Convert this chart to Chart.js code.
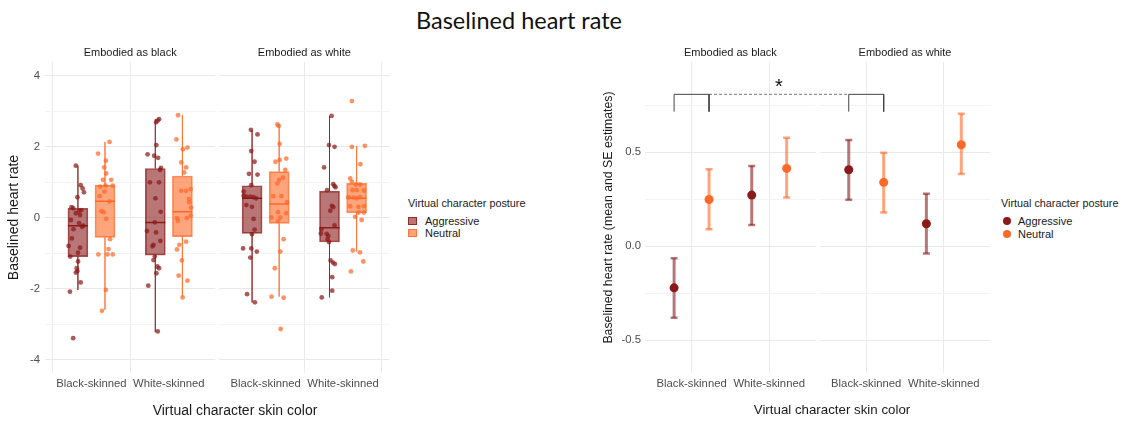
<!DOCTYPE html>
<html>
<head>
<meta charset="utf-8">
<script src="https://cdn.jsdelivr.net/npm/chart.js@4.4.1/dist/chart.umd.min.js"></script>
<style>
  body { margin: 0; background: #fff; font-family: "Liberation Sans", Arial, sans-serif; }
  #wrap { position: relative; width: 1126px; height: 425px; overflow: hidden; }
  .abs { position: absolute; white-space: nowrap; }
  #title { left: 0; width: 1038px; top: 7px; line-height: 26px; text-align: center;
           font-family: Lato, "Open Sans", sans-serif; font-size: 23.5px; color: #111; }
  .xtitle { line-height: 16px; text-align: center; color: #1a1a1a; width: 200px; }
  .lgTitle { font-size: 10.8px; line-height: 14px; color: #1a1a1a; }
  .lgItem { font-size: 11px; line-height: 12px; color: #1a1a1a; }
  .boxKey { width: 7px; height: 6px; border: 1px solid; }
  .dotKey { width: 8px; height: 8px; border-radius: 50%; }
</style>
</head>
<body>
<div id="wrap">
  <div id="title" class="abs">Baselined heart rate</div>

  <div class="abs" style="left:3px;top:0;width:398px;height:425px"><canvas id="boxChart"></canvas></div>
  <div class="abs" style="left:597px;top:0;width:400px;height:425px"><canvas id="meanChart"></canvas></div>

  <div class="abs xtitle" style="left:135px;top:402px;font-size:14px">Virtual character skin color</div>
  <div class="abs xtitle" style="left:732px;top:402px;font-size:13.3px">Virtual character skin color</div>

  <div class="abs lgTitle" style="left:408px;top:196px">Virtual character posture</div>
  <div class="abs boxKey" id="kA" style="left:408px;top:217px"></div>
  <div class="abs lgItem" style="left:425px;top:215px">Aggressive</div>
  <div class="abs boxKey" id="kN" style="left:408px;top:229px"></div>
  <div class="abs lgItem" style="left:425px;top:227px">Neutral</div>

  <div class="abs lgTitle" style="left:1001px;top:196px">Virtual character posture</div>
  <div class="abs dotKey" id="dA" style="left:1003px;top:217px"></div>
  <div class="abs lgItem" style="left:1018px;top:215px">Aggressive</div>
  <div class="abs dotKey" id="dN" style="left:1003px;top:230px"></div>
  <div class="abs lgItem" style="left:1018px;top:228px">Neutral</div>
</div>

<script>
// categories and facets
const categories = ['Black-skinned', 'White-skinned', 'Black-skinned', 'White-skinned'];
const facets = ['Embodied as black', 'Embodied as white'];
const postures = ['Aggressive', 'Neutral'];

// left panel: boxplot stats per category (aggressive / neutral)
const aggMin = [-2.03, -3.22, -2.38, -2.24];
const aggQ1  = [-1.09, -1.05, -0.435, -0.68];
const aggMed = [-0.22, -0.13, 0.55, -0.28];
const aggQ3  = [0.27, 1.39, 0.905, 0.755];
const aggMax = [1.47, 2.78, 2.47, 2.87];
const neuMin = [-2.59, -2.22, -2.22, -0.95];
const neuQ1  = [-0.55, -0.53, -0.155, 0.145];
const neuMed = [0.47, 0.17, 0.39, 0.55];
const neuQ3  = [0.92, 1.18, 1.30, 0.97];
const neuMax = [2.14, 2.89, 2.63, 2.02];

// left panel: individual observations (values) and their jitter offsets
const aggY = [
  [1.47, 0.92, 0.83, 0.72, 0.58, 0.30, 0.27, 0.20, 0.22, 0.13, 0.08, -0.06, -0.15, -0.22, -0.25, -0.32, -0.58, -0.79, -0.84, -0.98, -1.09, -1.23, -1.42, -1.50, -1.54, -1.82, -2.08, -3.39],
  [2.78, 2.74, 2.69, 2.05, 1.79, 1.75, 1.69, 1.41, 1.35, 1.00, 1.00, 0.55, 0.17, -0.13, -0.37, -0.41, -0.65, -0.76, -0.80, -1.09, -1.19, -1.37, -1.42, -1.56, -1.91, -3.20],
  [2.48, 2.35, 1.88, 1.58, 1.24, 1.22, 0.92, 0.74, 0.62, 0.60, 0.60, 0.58, 0.55, 0.36, 0.31, -0.03, -0.33, -0.46, -0.86, -0.86, -0.95, -1.12, -2.15, -2.38],
  [2.87, 2.05, 2.00, 1.42, 0.95, 0.90, 0.86, 0.78, 0.34, 0.30, 0.20, -0.21, -0.32, -0.44, -0.45, -0.51, -0.60, -0.68, -1.20, -1.26, -1.30, -1.67, -2.05, -2.24]
];
const aggJit = [
  [-0.202, -0.139, -0.114, -0.097, -0.181, -0.257, -0.236, -0.160, -0.130, -0.202, -0.147, -0.265, -0.160, -0.105, -0.122, -0.232, -0.253, -0.295, -0.147, -0.173, -0.274, -0.173, -0.190, -0.181, -0.202, -0.139, -0.278, -0.236],
  [-0.127, -0.144, -0.165, -0.161, -0.275, -0.190, -0.139, -0.102, -0.114, -0.245, -0.127, -0.173, -0.106, -0.182, -0.283, -0.165, -0.110, -0.199, -0.211, -0.182, -0.199, -0.148, -0.127, -0.161, -0.266, -0.144],
  [-0.190, -0.105, -0.186, -0.143, -0.215, -0.105, -0.186, -0.283, -0.283, -0.249, -0.198, -0.156, -0.122, -0.249, -0.177, -0.156, -0.143, -0.177, -0.291, -0.186, -0.114, -0.198, -0.240, -0.139],
  [-0.148, -0.182, -0.110, -0.245, -0.127, -0.110, -0.097, -0.207, -0.144, -0.127, -0.165, -0.110, -0.279, -0.287, -0.211, -0.190, -0.200, -0.182, -0.161, -0.131, -0.106, -0.140, -0.140, -0.275]
];
const neuY = [
  [2.14, 1.81, 1.61, 1.42, 1.25, 1.07, 1.07, 0.88, 0.91, 0.91, 0.74, 0.61, 0.46, 0.19, 0.16, -0.03, -0.60, -0.88, -1.03, -1.03, -1.03, -2.03, -2.62],
  [2.89, 2.21, 1.98, 1.93, 1.56, 1.42, 1.28, 0.81, 0.76, 0.76, 0.53, 0.44, 0.29, 0.06, -0.01, -0.01, -0.08, -0.67, -0.76, -0.89, -1.20, -1.63, -1.77, -2.24],
  [2.63, 2.59, 2.08, 1.58, 1.63, 1.67, 1.35, 1.13, 1.07, 0.97, 0.61, 0.61, 0.44, 0.16, 0.13, 0.01, 0.01, -0.09, -0.60, -0.95, -1.42, -2.22, -2.25, -3.13],
  [3.29, 2.00, 2.03, 1.51, 1.11, 1.02, 0.94, 0.94, 0.78, 0.78, 0.77, 0.58, 0.57, 0.55, 0.58, 0.33, 0.33, 0.31, 0.15, 0.15, 0.03, -0.06, -0.92, -0.97, -1.23, -1.51]
];
const neuJit = [
  [0.233, 0.085, 0.186, 0.165, 0.190, 0.148, 0.254, 0.114, 0.182, 0.275, 0.169, 0.106, 0.233, 0.127, 0.157, 0.190, 0.241, 0.220, 0.089, 0.207, 0.275, 0.186, 0.135],
  [0.118, 0.097, 0.240, 0.181, 0.160, 0.223, 0.198, 0.282, 0.160, 0.223, 0.261, 0.261, 0.286, 0.282, 0.232, 0.105, 0.118, 0.223, 0.135, 0.105, 0.168, 0.126, 0.240, 0.177],
  [0.152, 0.169, 0.181, 0.127, 0.181, 0.266, 0.253, 0.224, 0.173, 0.152, 0.097, 0.203, 0.278, 0.160, 0.266, 0.076, 0.190, 0.160, 0.232, 0.190, 0.118, 0.076, 0.232, 0.194],
  [0.114, 0.114, 0.282, 0.223, 0.092, 0.114, 0.164, 0.219, 0.122, 0.177, 0.270, 0.071, 0.135, 0.177, 0.219, 0.092, 0.270, 0.198, 0.198, 0.270, 0.156, 0.240, 0.126, 0.219, 0.261, 0.101]
];

// right panel: estimated means and SE limits
const aggMean = [-0.221, 0.272, 0.407, 0.120];
const aggLo   = [-0.380, 0.113, 0.247, -0.038];
const aggHi   = [-0.064, 0.427, 0.565, 0.279];
const neuMean = [0.249, 0.414, 0.340, 0.540];
const neuLo   = [0.090, 0.260, 0.180, 0.384];
const neuHi   = [0.409, 0.577, 0.497, 0.705];

// significance bracket (value levels) and its label
const bracketLow = 0.716;
const bracketHigh = 0.808;
const starY = 0.868;
const starText = '*';

// axis ticks
const yTicksL = [-4, -3, -2, -1, 0, 1, 2, 3, 4];
const yTicksR = [-0.5, -0.25, 0, 0.25, 0.5, 0.75];

// layout of the faceted x axis (data units)
const catPos = [1, 2, 3.25, 4.25];
const facetRange = [[0.4, 2.6], [2.65, 4.85]];
const dodgeL = 0.175;
const dodgeR = 0.225;

const aggCol = [139, 26, 26];
const neuCol = [255, 105, 40];
const rgba = (c, a) => `rgba(${c[0]},${c[1]},${c[2]},${a})`;

document.getElementById('kA').style.cssText += `background:${rgba(aggCol,0.6)};border-color:${rgba(aggCol,0.8)};`;
document.getElementById('kN').style.cssText += `background:${rgba(neuCol,0.6)};border-color:${rgba(neuCol,0.8)};`;
document.getElementById('dA').style.background = rgba(aggCol, 1);
document.getElementById('dN').style.background = rgba(neuCol, 1);

Chart.defaults.font.family = '"Liberation Sans", Arial, sans-serif';
Chart.defaults.color = '#4d4d4d';

// facet strips + white gap between the two facet panels
const facetPlugin = {
  id: 'facets',
  beforeDatasetsDraw(chart) {
    const {ctx, chartArea, scales: {x}} = chart;
    const a = x.getPixelForValue(facetRange[0][1]);
    const b = x.getPixelForValue(facetRange[1][0]);
    ctx.save();
    ctx.fillStyle = '#fff';
    ctx.fillRect(a, chartArea.top - 1, b - a, chartArea.bottom - chartArea.top + 2);
    ctx.restore();
  },
  afterDraw(chart) {
    const {ctx, chartArea, scales: {x}} = chart;
    ctx.save();
    ctx.font = '11px "Liberation Sans", Arial, sans-serif';
    ctx.fillStyle = '#1a1a1a';
    ctx.textAlign = 'center';
    ctx.textBaseline = 'middle';
    facetRange.forEach((r, i) => {
      const cx = (x.getPixelForValue(r[0]) + x.getPixelForValue(r[1])) / 2;
      ctx.fillText(facets[i], cx, chartArea.top - 9);
    });
    ctx.restore();
  }
};

const starPlugin = {
  id: 'star',
  afterDatasetsDraw(chart) {
    const {ctx, scales: {x, y}} = chart;
    const sx = x.getPixelForValue((catPos[0] + catPos[2]) / 2);
    ctx.save();
    ctx.font = '20px "Liberation Sans", Arial, sans-serif';
    ctx.fillStyle = '#111';
    ctx.textAlign = 'center';
    ctx.textBaseline = 'middle';
    ctx.fillText(starText, sx, y.getPixelForValue(starY) + 4);
    ctx.restore();
  }
};

function xScale() {
  return {
    type: 'linear', min: facetRange[0][0], max: facetRange[1][1], offset: false,
    afterBuildTicks: s => { s.ticks = catPos.map(v => ({value: v})); },
    afterFit: s => { s.height = 52; },
    ticks: {callback: (v, i) => categories[i], font: {size: 11.3}, padding: 4, autoSkip: false, maxRotation: 0},
    grid: {color: '#ebebeb', drawTicks: false},
    border: {display: false}
  };
}

function boxSets(col, sign, mins, q1s, meds, q3s, maxs, ys, jits) {
  const xs = catPos.map(c => c + sign * dodgeL);
  const whisk = [];
  xs.forEach((x, i) => {
    whisk.push({x, y: maxs[i]}, {x, y: q3s[i]}, {x, y: null}, {x, y: q1s[i]}, {x, y: mins[i]}, {x, y: null});
  });
  const pts = [];
  ys.forEach((arr, i) => arr.forEach((v, j) => pts.push({x: catPos[i] + jits[i][j], y: v})));
  return [
    {type: 'line', data: whisk, borderColor: rgba(col, 0.6), borderWidth: 1, pointRadius: 0, spanGaps: false, order: 4},
    {type: 'bar', data: xs.map((x, i) => ({x, y: [q1s[i], q3s[i]]})), backgroundColor: rgba(col, 0.6),
     borderColor: rgba(col, 0.75), borderWidth: 1, borderSkipped: false, barThickness: 20, grouped: false, order: 3},
    {type: 'scatter', data: xs.map((x, i) => ({x, y: meds[i]})), pointStyle: 'line', pointRadius: 10,
     pointBorderColor: rgba(col, 1), pointBorderWidth: 1.5, order: 2},
    {type: 'scatter', data: pts, pointRadius: 2.4, pointBackgroundColor: rgba(col, 0.72), pointBorderWidth: 0, order: 1}
  ];
}

new Chart(document.getElementById('boxChart'), {
  type: 'scatter',
  data: {datasets: [
    ...boxSets(aggCol, -1, aggMin, aggQ1, aggMed, aggQ3, aggMax, aggY, aggJit),
    ...boxSets(neuCol, 1, neuMin, neuQ1, neuMed, neuQ3, neuMax, neuY, neuJit)
  ]},
  options: {
    responsive: true, maintainAspectRatio: false, animation: false, events: [],
    layout: {padding: {top: 62, right: 4.4, bottom: 0, left: 0}},
    plugins: {legend: {display: false}, tooltip: {enabled: false}},
    scales: {
      x: xScale(),
      y: {
        type: 'linear', min: -4.37, max: 4.39,
        afterBuildTicks: s => { s.ticks = yTicksL.map(v => ({value: v})); },
        afterFit: s => { s.width = 42; },
        ticks: {callback: v => (v % 2 === 0 ? String(v) : ''), font: {size: 11.3}, padding: 5},
        grid: {color: c => (c.tick && c.tick.value % 2 === 0 ? '#e8e8e8' : '#f3f3f3'), drawTicks: false},
        border: {display: false},
        title: {display: true, text: 'Baselined heart rate', color: '#1a1a1a', font: {size: 14}, padding: {top: 3, bottom: 0}}
      }
    }
  },
  plugins: [facetPlugin]
});

function meanSets(col, sign, means, lo, hi) {
  const xs = catPos.map(c => c + sign * dodgeR);
  const bars = [];
  xs.forEach((x, i) => bars.push({x, y: lo[i]}, {x, y: hi[i]}, {x, y: null}));
  return [
    {type: 'line', data: bars, borderColor: rgba(col, 0.6), borderWidth: 3, spanGaps: false,
     pointStyle: 'line', pointRadius: 3.5, pointBorderWidth: 2.5, pointBorderColor: rgba(col, 0.6), order: 3},
    {type: 'scatter', data: xs.map((x, i) => ({x, y: means[i]})), pointRadius: 4.5,
     pointBackgroundColor: rgba(col, 1), pointBorderWidth: 0, order: 1}
  ];
}

const bl = catPos[0] - dodgeR, br = catPos[0] + dodgeR;
const wl = catPos[2] - dodgeR, wr = catPos[2] + dodgeR;

new Chart(document.getElementById('meanChart'), {
  type: 'scatter',
  data: {datasets: [
    ...meanSets(aggCol, -1, aggMean, aggLo, aggHi),
    ...meanSets(neuCol, 1, neuMean, neuLo, neuHi),
    {type: 'line', data: [
      {x: bl, y: bracketLow}, {x: bl, y: bracketHigh}, {x: br, y: bracketHigh}, {x: br, y: bracketLow}, {x: br, y: null},
      {x: wl, y: bracketLow}, {x: wl, y: bracketHigh}, {x: wr, y: bracketHigh}, {x: wr, y: bracketLow}
    ], borderColor: '#444', borderWidth: 1, pointRadius: 0, spanGaps: false, order: 2},
    {type: 'line', data: [{x: br, y: bracketHigh}, {x: wl, y: bracketHigh}],
     borderColor: '#777', borderWidth: 1, borderDash: [3, 2], pointRadius: 0, order: 2}
  ]},
  options: {
    responsive: true, maintainAspectRatio: false, animation: false, events: [],
    layout: {padding: {top: 62, right: 6.6, bottom: 0, left: 0}},
    plugins: {legend: {display: false}, tooltip: {enabled: false}},
    scales: {
      x: xScale(),
      y: {
        type: 'linear', min: -0.674, max: 0.98,
        afterBuildTicks: s => { s.ticks = yTicksR.map(v => ({value: v})); },
        afterFit: s => { s.width = 48; },
        ticks: {callback: v => (Math.abs(v * 2 - Math.round(v * 2)) < 1e-9 ? v.toFixed(1) : ''), font: {size: 11.3}, padding: 4},
        grid: {color: c => (c.tick && Math.abs(c.tick.value * 2 - Math.round(c.tick.value * 2)) < 1e-9 ? '#e8e8e8' : '#f3f3f3'), drawTicks: false},
        border: {display: false},
        title: {display: true, text: 'Baselined heart rate (mean and SE estimates)', color: '#1a1a1a', font: {size: 12.3}, padding: {top: 4, bottom: 0}}
      }
    }
  },
  plugins: [facetPlugin, starPlugin]
});
</script>
</body>
</html>
